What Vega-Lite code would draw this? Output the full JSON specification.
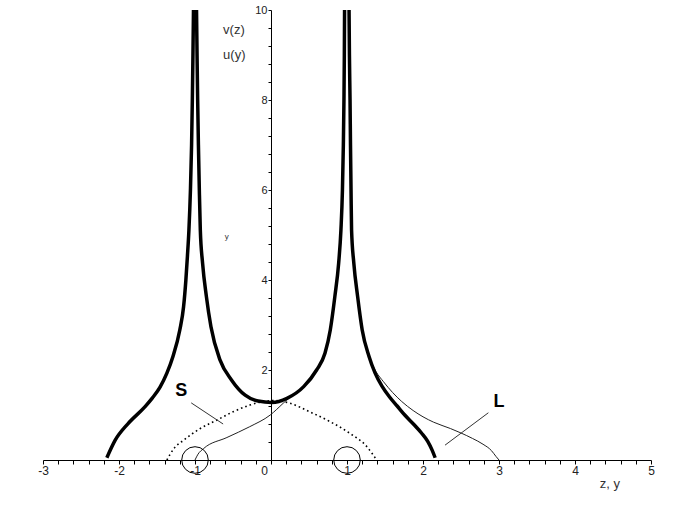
{
  "$schema": "https://vega.github.io/schema/vega-lite/v6.json",
  "autosize": "none",
  "width": 608,
  "height": 450,
  "padding": {"left": 43, "top": 10, "right": 41, "bottom": 59},
  "background": "white",
  "config": {
    "view": {"stroke": null},
    "font": "Liberation Sans",
    "axis": {"grid": false, "title": null, "domainColor": "black", "tickColor": "black", "labelColor": "#222", "labelFont": "Liberation Sans", "labelOverlap": false, "labelFlush": false}
  },
  "datasets": {
    "curves": [
      {"series": "v", "seg": "a", "z": -2.16, "val": 0.05},
      {"series": "v", "seg": "a", "z": -2.05, "val": 0.44},
      {"series": "v", "seg": "a", "z": -1.88, "val": 0.81},
      {"series": "v", "seg": "a", "z": -1.66, "val": 1.18},
      {"series": "v", "seg": "a", "z": -1.56, "val": 1.38},
      {"series": "v", "seg": "a", "z": -1.46, "val": 1.62},
      {"series": "v", "seg": "a", "z": -1.37, "val": 1.93},
      {"series": "v", "seg": "a", "z": -1.29, "val": 2.3},
      {"series": "v", "seg": "a", "z": -1.2, "val": 2.89},
      {"series": "v", "seg": "a", "z": -1.15, "val": 3.41},
      {"series": "v", "seg": "a", "z": -1.12, "val": 4.0},
      {"series": "v", "seg": "a", "z": -1.1, "val": 4.52},
      {"series": "v", "seg": "a", "z": -1.08, "val": 5.11},
      {"series": "v", "seg": "a", "z": -1.06, "val": 6},
      {"series": "v", "seg": "a", "z": -1.045, "val": 7},
      {"series": "v", "seg": "a", "z": -1.035, "val": 8},
      {"series": "v", "seg": "a", "z": -1.027, "val": 9},
      {"series": "v", "seg": "a", "z": -1.02, "val": 10},
      {"series": "v", "seg": "b", "z": -0.98, "val": 10},
      {"series": "v", "seg": "b", "z": -0.973, "val": 9},
      {"series": "v", "seg": "b", "z": -0.965, "val": 8},
      {"series": "v", "seg": "b", "z": -0.955, "val": 7},
      {"series": "v", "seg": "b", "z": -0.943, "val": 6},
      {"series": "v", "seg": "b", "z": -0.93, "val": 5.11},
      {"series": "v", "seg": "b", "z": -0.9, "val": 4.37},
      {"series": "v", "seg": "b", "z": -0.85, "val": 3.63},
      {"series": "v", "seg": "b", "z": -0.79, "val": 2.96},
      {"series": "v", "seg": "b", "z": -0.67, "val": 2.22},
      {"series": "v", "seg": "b", "z": -0.52, "val": 1.78},
      {"series": "v", "seg": "b", "z": -0.34, "val": 1.44},
      {"series": "v", "seg": "b", "z": -0.17, "val": 1.31},
      {"series": "v", "seg": "b", "z": 0.01, "val": 1.28},
      {"series": "v", "seg": "b", "z": 0.21, "val": 1.37},
      {"series": "v", "seg": "b", "z": 0.43, "val": 1.63},
      {"series": "v", "seg": "b", "z": 0.6, "val": 2.0},
      {"series": "v", "seg": "b", "z": 0.71, "val": 2.37},
      {"series": "v", "seg": "b", "z": 0.78, "val": 2.89},
      {"series": "v", "seg": "b", "z": 0.84, "val": 3.63},
      {"series": "v", "seg": "b", "z": 0.89, "val": 4.37},
      {"series": "v", "seg": "b", "z": 0.92, "val": 5.11},
      {"series": "v", "seg": "b", "z": 0.94, "val": 6},
      {"series": "v", "seg": "b", "z": 0.952, "val": 7},
      {"series": "v", "seg": "b", "z": 0.96, "val": 8},
      {"series": "v", "seg": "b", "z": 0.965, "val": 9},
      {"series": "v", "seg": "b", "z": 0.968, "val": 10},
      {"series": "v", "seg": "c", "z": 1.027, "val": 10},
      {"series": "v", "seg": "c", "z": 1.032, "val": 9},
      {"series": "v", "seg": "c", "z": 1.04, "val": 8},
      {"series": "v", "seg": "c", "z": 1.046, "val": 7},
      {"series": "v", "seg": "c", "z": 1.053, "val": 6},
      {"series": "v", "seg": "c", "z": 1.06, "val": 5.11},
      {"series": "v", "seg": "c", "z": 1.09, "val": 4.37},
      {"series": "v", "seg": "c", "z": 1.14, "val": 3.63},
      {"series": "v", "seg": "c", "z": 1.2, "val": 2.89},
      {"series": "v", "seg": "c", "z": 1.29, "val": 2.3},
      {"series": "v", "seg": "c", "z": 1.37, "val": 1.93},
      {"series": "v", "seg": "c", "z": 1.46, "val": 1.64},
      {"series": "v", "seg": "c", "z": 1.56, "val": 1.4},
      {"series": "v", "seg": "c", "z": 1.66, "val": 1.2},
      {"series": "v", "seg": "c", "z": 1.76, "val": 1.0},
      {"series": "v", "seg": "c", "z": 1.88, "val": 0.79},
      {"series": "v", "seg": "c", "z": 1.98, "val": 0.6},
      {"series": "v", "seg": "c", "z": 2.06, "val": 0.42},
      {"series": "v", "seg": "c", "z": 2.12, "val": 0.22},
      {"series": "v", "seg": "c", "z": 2.16, "val": 0.05},
      {"series": "u", "seg": "a", "z": -1.0, "val": 0.0},
      {"series": "u", "seg": "a", "z": -0.96, "val": 0.13},
      {"series": "u", "seg": "a", "z": -0.89, "val": 0.25},
      {"series": "u", "seg": "a", "z": -0.58, "val": 0.5},
      {"series": "u", "seg": "a", "z": -0.28, "val": 0.74},
      {"series": "u", "seg": "a", "z": -0.01, "val": 1.0},
      {"series": "u", "seg": "a", "z": 0.16, "val": 1.26},
      {"series": "u", "seg": "a", "z": 0.23, "val": 1.37},
      {"series": "u", "seg": "a", "z": 0.43, "val": 1.63},
      {"series": "u", "seg": "a", "z": 0.6, "val": 2.0},
      {"series": "u", "seg": "a", "z": 0.71, "val": 2.37},
      {"series": "u", "seg": "a", "z": 0.78, "val": 2.89},
      {"series": "u", "seg": "a", "z": 0.84, "val": 3.63},
      {"series": "u", "seg": "a", "z": 0.89, "val": 4.37},
      {"series": "u", "seg": "a", "z": 0.92, "val": 5.11},
      {"series": "u", "seg": "a", "z": 0.94, "val": 6},
      {"series": "u", "seg": "a", "z": 0.952, "val": 7},
      {"series": "u", "seg": "a", "z": 0.96, "val": 8},
      {"series": "u", "seg": "a", "z": 0.965, "val": 9},
      {"series": "u", "seg": "a", "z": 0.968, "val": 10},
      {"series": "u", "seg": "b", "z": 1.027, "val": 10},
      {"series": "u", "seg": "b", "z": 1.032, "val": 9},
      {"series": "u", "seg": "b", "z": 1.04, "val": 8},
      {"series": "u", "seg": "b", "z": 1.046, "val": 7},
      {"series": "u", "seg": "b", "z": 1.053, "val": 6},
      {"series": "u", "seg": "b", "z": 1.06, "val": 5.11},
      {"series": "u", "seg": "b", "z": 1.09, "val": 4.37},
      {"series": "u", "seg": "b", "z": 1.14, "val": 3.63},
      {"series": "u", "seg": "b", "z": 1.2, "val": 2.89},
      {"series": "u", "seg": "b", "z": 1.29, "val": 2.3},
      {"series": "u", "seg": "b", "z": 1.38, "val": 1.97},
      {"series": "u", "seg": "b", "z": 1.48, "val": 1.74},
      {"series": "u", "seg": "b", "z": 1.6, "val": 1.5},
      {"series": "u", "seg": "b", "z": 1.72, "val": 1.3},
      {"series": "u", "seg": "b", "z": 1.87, "val": 1.1},
      {"series": "u", "seg": "b", "z": 2.0, "val": 0.96},
      {"series": "u", "seg": "b", "z": 2.14, "val": 0.84},
      {"series": "u", "seg": "b", "z": 2.36, "val": 0.7},
      {"series": "u", "seg": "b", "z": 2.5, "val": 0.6},
      {"series": "u", "seg": "b", "z": 2.65, "val": 0.48},
      {"series": "u", "seg": "b", "z": 2.79, "val": 0.35},
      {"series": "u", "seg": "b", "z": 2.9, "val": 0.21},
      {"series": "u", "seg": "b", "z": 2.96, "val": 0.08},
      {"series": "u", "seg": "b", "z": 3.0, "val": 0.0},
      {"series": "d", "seg": "a", "z": -1.37, "val": 0.0},
      {"series": "d", "seg": "a", "z": -1.28, "val": 0.25},
      {"series": "d", "seg": "a", "z": -1.15, "val": 0.44},
      {"series": "d", "seg": "a", "z": -0.93, "val": 0.7},
      {"series": "d", "seg": "a", "z": -0.71, "val": 0.89},
      {"series": "d", "seg": "a", "z": -0.5, "val": 1.07},
      {"series": "d", "seg": "a", "z": -0.28, "val": 1.22},
      {"series": "d", "seg": "a", "z": -0.1, "val": 1.3},
      {"series": "d", "seg": "a", "z": 0.05, "val": 1.32},
      {"series": "d", "seg": "a", "z": 0.25, "val": 1.26},
      {"series": "d", "seg": "a", "z": 0.51, "val": 1.07},
      {"series": "d", "seg": "a", "z": 0.78, "val": 0.85},
      {"series": "d", "seg": "a", "z": 1.04, "val": 0.59},
      {"series": "d", "seg": "a", "z": 1.26, "val": 0.3},
      {"series": "d", "seg": "a", "z": 1.39, "val": 0.0}
    ]
  },
  "encoding": {
    "x": {"field": "z", "type": "quantitative", "scale": {"domain": [-3, 5], "nice": false, "zero": false},
      "axis": {"orient": "bottom", "values": [-3,-2.8,-2.6,-2.4,-2.2,-2,-1.8,-1.6,-1.4,-1.2,-1,-0.8,-0.6,-0.4,-0.2,0,0.2,0.4,0.6,0.8,1,1.2,1.4,1.6,1.8,2,2.2,2.4,2.6,2.8,3,3.2,3.4,3.6,3.8,4,4.2,4.4,4.6,4.8,5],
        "labelExpr": "abs(datum.value - round(datum.value)) < 0.001 ? toString(round(datum.value)) : ''",
        "labelFontSize": 12, "tickSize": 4, "labelPadding": 1, "labelOverlap": false,
        "labelOffset": {"condition": {"test": "datum.value == 0", "value": -7}, "value": 0}}},
    "y": {"field": "val", "type": "quantitative", "scale": {"domain": [0, 10], "nice": false, "zero": false},
      "axis": {"orient": "left", "offset": -228, "values": [0,0.4,0.8,1.2,1.6,2,2.4,2.8,3.2,3.6,4,4.4,4.8,5.2,5.6,6,6.4,6.8,7.2,7.6,8,8.4,8.8,9.2,9.6,10],
        "labelExpr": "(datum.value > 0.5 && abs(datum.value/2 - round(datum.value/2)) < 0.001) ? toString(round(datum.value)) : ''",
        "labelFontSize": 11, "tickSize": 3, "labelPadding": 1, "labelOverlap": false}}
  },
  "layer": [
    {
      "data": {"name": "curves"},
      "transform": [{"filter": "datum.series == 'd'"}],
      "mark": {"type": "line", "color": "black", "strokeWidth": 1.6, "strokeDash": [1.6, 3], "interpolate": "monotone"},
      "encoding": {"detail": {"field": "seg"}}
    },
    {
      "data": {"name": "curves"},
      "transform": [{"filter": "datum.series == 'u'"}],
      "mark": {"type": "line", "color": "#222", "strokeWidth": 1, "interpolate": "monotone"},
      "encoding": {"detail": {"field": "seg"}}
    },
    {
      "data": {"name": "curves"},
      "transform": [{"filter": "datum.series == 'v'"}],
      "mark": {"type": "line", "color": "black", "strokeWidth": 3.5, "interpolate": "monotone"},
      "encoding": {"detail": {"field": "seg"}}
    },
    {
      "data": {"values": [
        {"z": -1.05, "val": 1.27, "z2": -0.63, "val2": 0.8},
        {"z": 2.29, "val": 0.33, "z2": 2.86, "val2": 1.05}
      ]},
      "mark": {"type": "rule", "color": "#333", "strokeWidth": 1},
      "encoding": {
        "x2": {"field": "z2"},
        "y2": {"field": "val2"}
      }
    },
    {
      "data": {"values": [{"z": -1, "val": 0}, {"z": 1, "val": 0}]},
      "mark": {"type": "point", "shape": "circle", "filled": false, "size": 707, "stroke": "black", "strokeWidth": 1, "opacity": 1},
      "encoding": {}
    },
    {
      "data": {"values": [
        {"z": -1.18, "val": 1.53, "label": "S"},
        {"z": 3.0, "val": 1.29, "label": "L"}
      ]},
      "mark": {"type": "text", "fontSize": 18, "fontWeight": "bold", "color": "black", "align": "center", "baseline": "middle", "font": "Liberation Sans"},
      "encoding": {"text": {"field": "label"}}
    },
    {
      "data": {"values": [
        {"z": -0.63, "val": 9.56, "label": "v(z)", "size": 13},
        {"z": -0.63, "val": 9.0, "label": "u(y)", "size": 13},
        {"z": -0.61, "val": 4.96, "label": "y", "size": 8}
      ]},
      "mark": {"type": "text", "color": "#333", "align": "left", "baseline": "middle", "font": "Liberation Sans"},
      "encoding": {
        "text": {"field": "label"},
        "size": {"field": "size", "type": "quantitative", "scale": null, "legend": null}
      }
    },
    {
      "data": {"values": [{"z": 4.46, "val": -0.53, "label": "z, y"}]},
      "mark": {"type": "text", "color": "#333", "fontSize": 13, "align": "center", "baseline": "middle", "font": "Liberation Sans"},
      "encoding": {"text": {"field": "label"}}
    }
  ]
}
